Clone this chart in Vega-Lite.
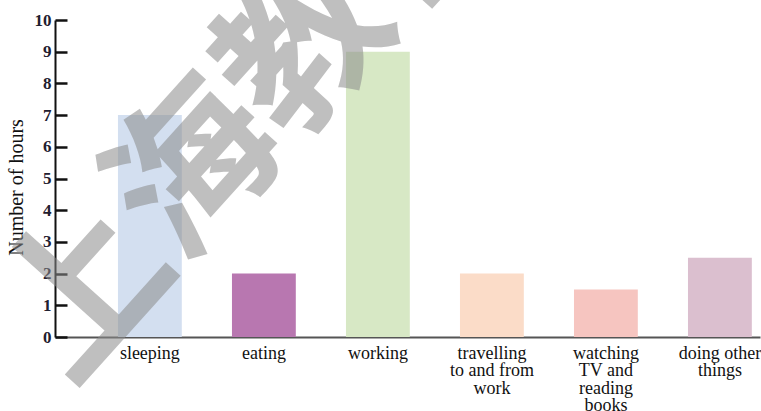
{
  "$schema": "https://vega.github.io/schema/vega-lite/v6.json",
  "width": 705,
  "height": 317,
  "autosize": "none",
  "padding": {"left": 55, "top": 20, "right": 1, "bottom": 74},
  "background": "white",
  "config": {"view": {"stroke": null}},
  "data": {"values": [
    {"activity": "sleeping", "hours": 7},
    {"activity": "eating", "hours": 2},
    {"activity": "working", "hours": 9},
    {"activity": "travelling|to and from|work", "hours": 2},
    {"activity": "watching|TV and|reading|books", "hours": 1.5},
    {"activity": "doing other|things", "hours": 2.5}
  ]},
  "encoding": {
    "x": {
      "field": "activity", "type": "nominal", "sort": null,
      "scale": {"paddingInner": 0.44, "paddingOuter": 0.312, "align": 0.885},
      "axis": {
        "title": null, "labelAngle": 0, "ticks": false,
        "labelExpr": "split(datum.label, '|')",
        "labelFont": "Liberation Serif", "labelFontSize": 18, "labelColor": "#111111",
        "labelLineHeight": 17.5, "labelPadding": 7, "labelBaseline": "top",
        "domainColor": "#555555", "domainWidth": 2
      }
    },
    "y": {
      "field": "hours", "type": "quantitative",
      "scale": {"domain": [0, 10]},
      "axis": {
        "title": "Number of hours", "titleFont": "Liberation Serif", "titleFontSize": 20,
        "titleFontWeight": "normal", "titleColor": "#111111", "titlePadding": 8, "titleY": 167,
        "values": [0,1,2,3,4,5,6,7,8,9,10], "labelOverlap": false,
        "grid": false, "tickSize": -12, "tickWidth": 2.5, "tickColor": "#111111",
        "labelFont": "Liberation Serif", "labelFontSize": 17, "labelFontWeight": "bold",
        "labelColor": "#1f2030", "labelPadding": 16,
        "domainColor": "#111111", "domainWidth": 2
      }
    }
  },
  "layer": [
    {
      "mark": {"type": "bar"},
      "encoding": {
        "color": {
          "field": "activity", "type": "nominal", "legend": null,
          "scale": {
            "domain": ["sleeping", "eating", "working", "travelling|to and from|work", "watching|TV and|reading|books", "doing other|things"],
            "range": ["#d3dff0", "#b877b0", "#d7e8c5", "#fbdcc8", "#f6c5c0", "#dbbfcf"]
          }
        }
      }
    },
    {
      "data": {"values": [{"activity": "eating", "hours": 7.8, "wm": "上海教育"}]},
      "mark": {"type": "text", "font": "Noto Sans CJK SC", "fontSize": 165, "fontWeight": "bold", "angle": 312, "align": "center", "baseline": "middle", "color": "#8c8c8c", "opacity": 0.55, "dx": -22, "dy": 6},
      "encoding": {
        "text": {"field": "wm"}
      }
    }
  ]
}
